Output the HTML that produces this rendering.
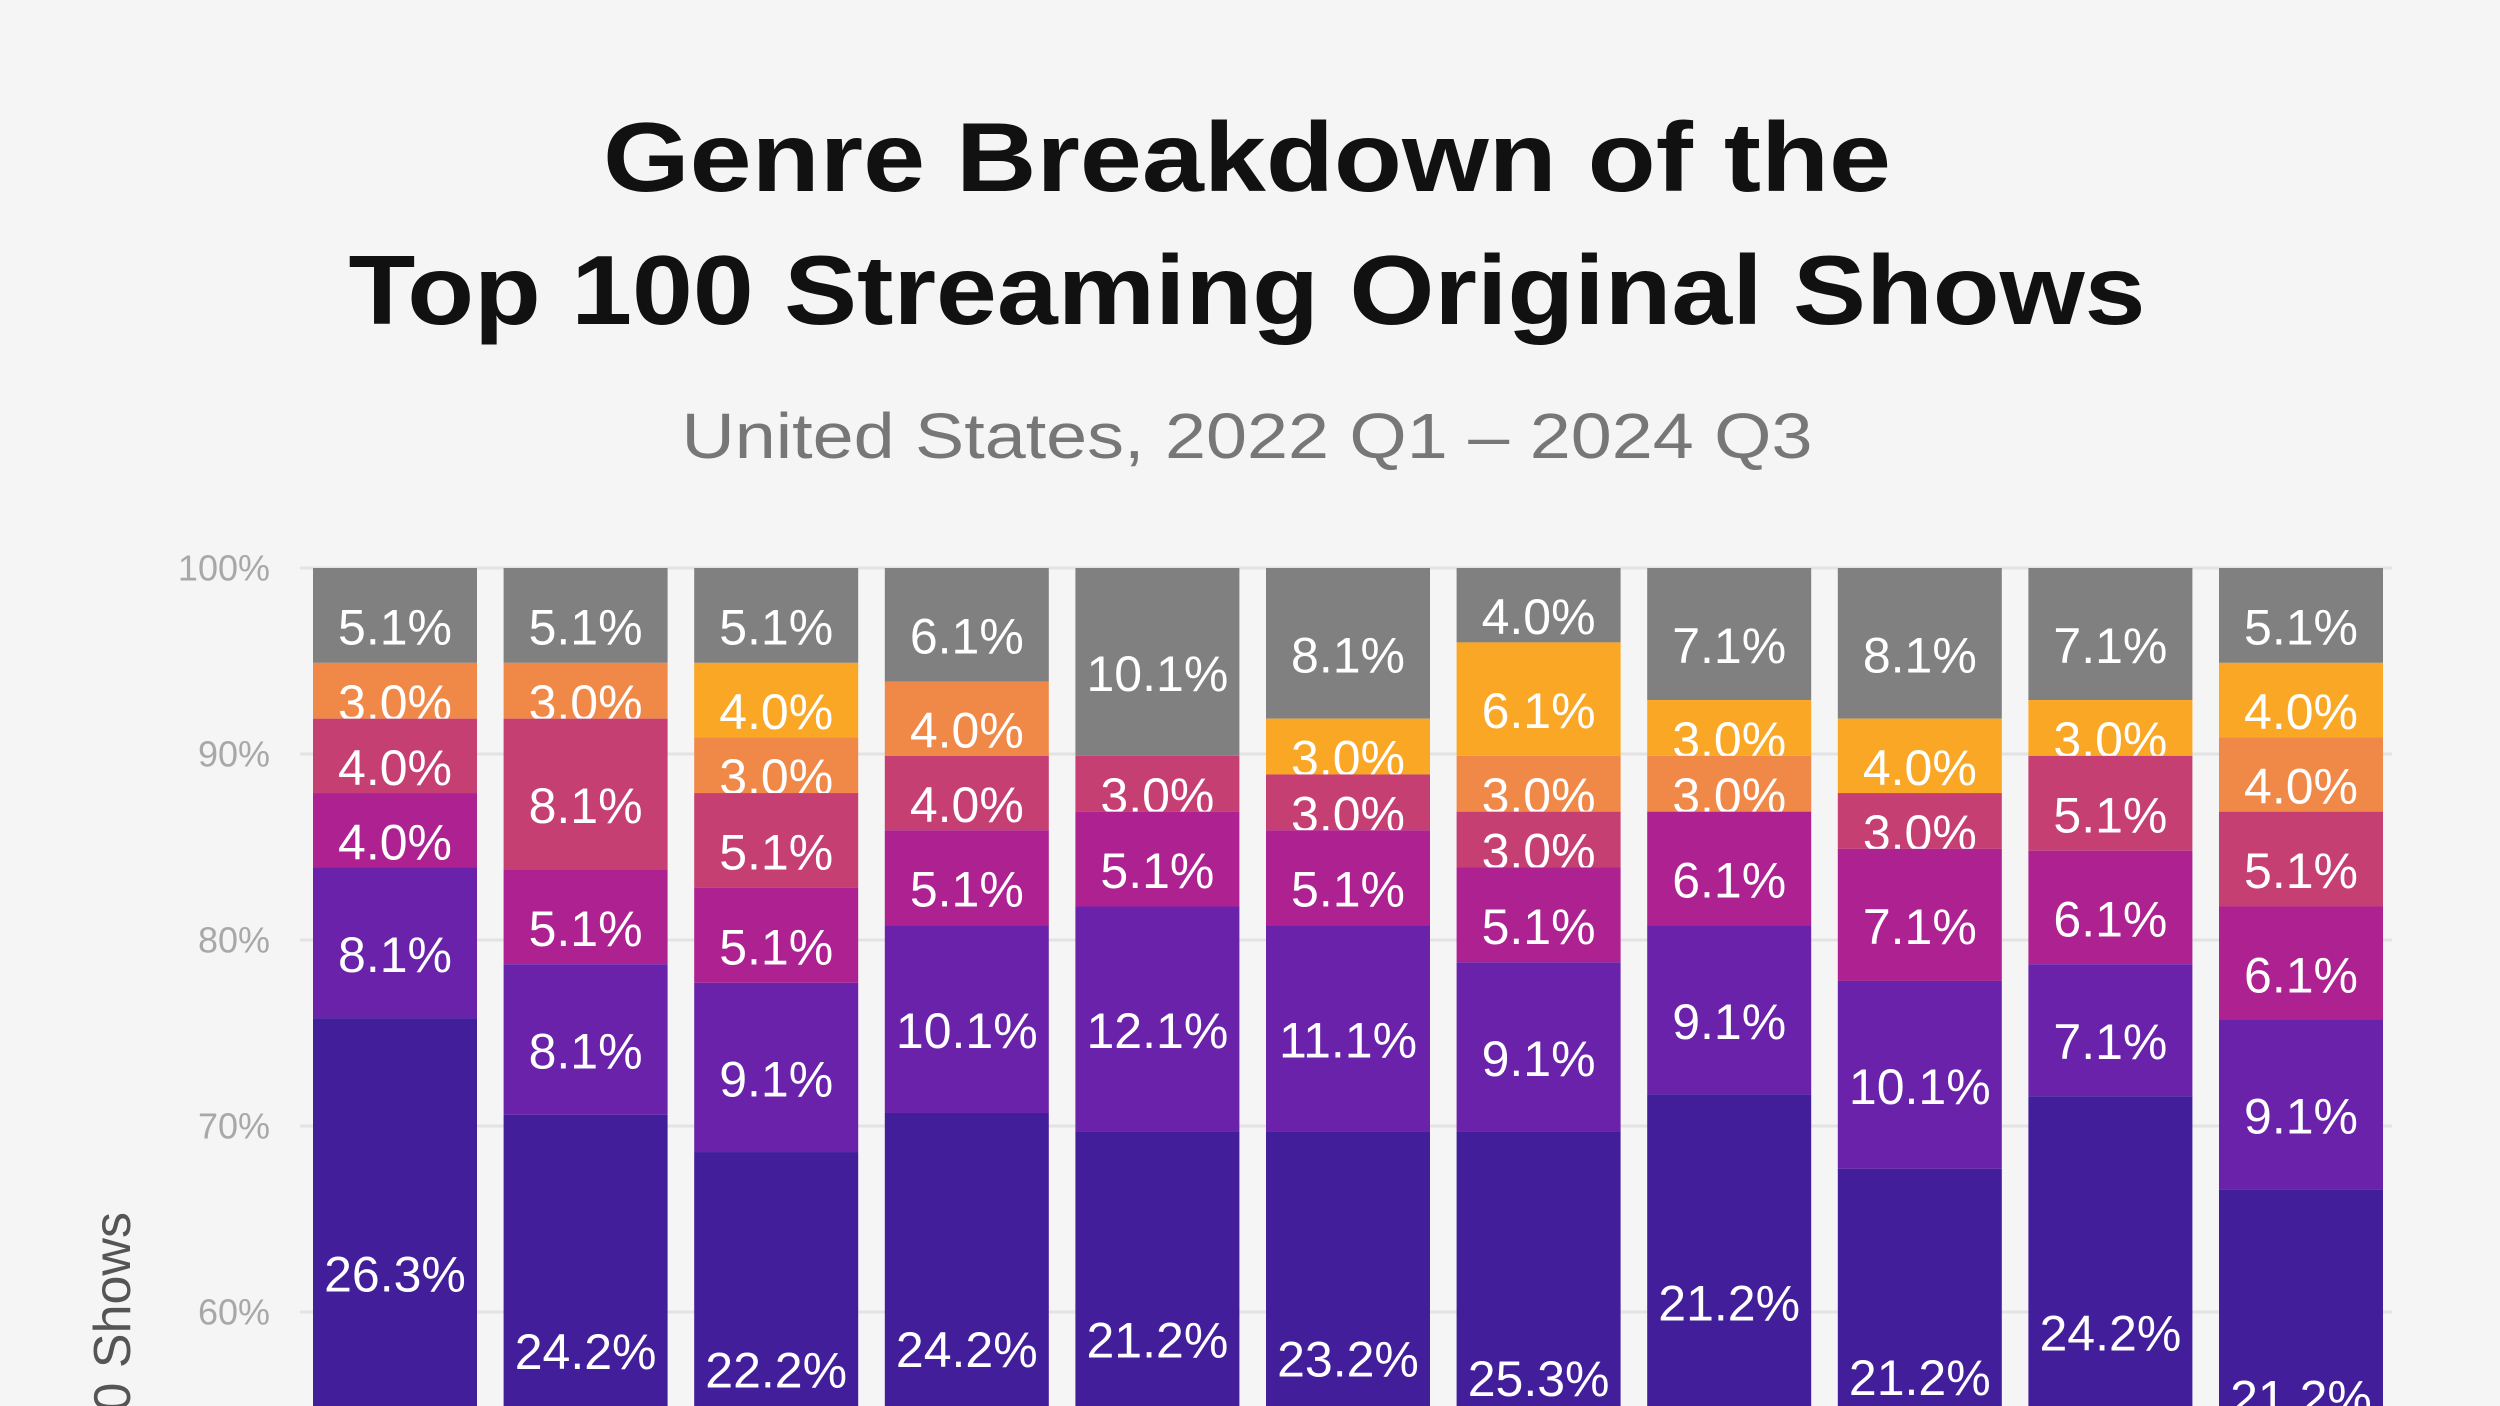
<!DOCTYPE html>
<html><head><meta charset="utf-8"><style>
html,body{margin:0;padding:0;background:#f5f5f5;overflow:hidden;width:2500px;height:1406px;}
svg{display:block;font-family:"Liberation Sans",sans-serif;overflow:hidden;}
</style></head><body>
<svg id="chart" width="2500" height="1406" viewBox="0 0 2500 1406" xmlns="http://www.w3.org/2000/svg">
<rect width="2500" height="1406" fill="#f5f5f5"/>
<text x="1247" y="191" text-anchor="middle" font-size="98" font-weight="bold" fill="#111" textLength="1288" lengthAdjust="spacingAndGlyphs">Genre Breakdown of the</text>
<text x="1247" y="324" text-anchor="middle" font-size="98" font-weight="bold" fill="#111" textLength="1797" lengthAdjust="spacingAndGlyphs">Top 100 Streaming Original Shows</text>
<text x="1247" y="458" text-anchor="middle" font-size="64" fill="#777" textLength="1131" lengthAdjust="spacingAndGlyphs">United States, 2022 Q1 – 2024 Q3</text>
<text x="0" y="0" transform="translate(130,1212) rotate(-90)" text-anchor="end" font-size="52" fill="#555">% of Top 100 Shows</text>
<g id="grid"></g>
<g id="bars"></g>
</svg>
<script>
const quarters = ["2022 Q1","2022 Q2","2022 Q3","2022 Q4","2023 Q1","2023 Q2","2023 Q3","2023 Q4","2024 Q1","2024 Q2","2024 Q3"];
const seriesNames = ["genre-indigo","genre-purple","genre-magenta","genre-rose","genre-orange","genre-yellow","genre-other"];
const indigoVals = [26.3,24.2,22.2,24.2,21.2,23.2,25.3,21.2,21.2,24.2,21.2];
const purpleVals = [8.1,8.1,9.1,10.1,12.1,11.1,9.1,9.1,10.1,7.1,9.1];
const magentaVals = [4.0,5.1,5.1,5.1,5.1,5.1,5.1,6.1,7.1,6.1,6.1];
const roseVals = [4.0,8.1,5.1,4.0,3.0,3.0,3.0,0,3.0,5.1,5.1];
const orangeVals = [3.0,3.0,3.0,4.0,0,0,3.0,3.0,0,0,4.0];
const yellowVals = [0,0,4.0,0,0,3.0,6.1,3.0,4.0,3.0,4.0];
const otherVals = [5.1,5.1,5.1,6.1,10.1,8.1,4.0,7.1,8.1,7.1,5.1];
const tickVals = [100,90,80,70,60];
const colors = ["#431e9b","#6a22aa","#ad2190","#c63f72","#f08848","#fba726","#808080"];
const NS="http://www.w3.org/2000/svg";
const y = v => 568 + (100 - v) * 18.6;
const x = i => 313 + i * 190.6;
const BW = 164;
const grid=document.getElementById('grid');
tickVals.forEach(t=>{
  const l=document.createElementNS(NS,'line');
  l.setAttribute('x1',300);l.setAttribute('x2',2392);
  l.setAttribute('y1',y(t));l.setAttribute('y2',y(t));
  l.setAttribute('stroke','#e3e3e3');l.setAttribute('stroke-width',3);
  
  
  grid.appendChild(l);
  const tx=document.createElementNS(NS,'text');
  tx.setAttribute('x',270);tx.setAttribute('y',y(t));
  tx.setAttribute('text-anchor','end');tx.setAttribute('dominant-baseline','central');
  tx.setAttribute('font-size',36);tx.setAttribute('fill','#a8a8a8');
  tx.textContent=t+'%';
  
  
  grid.appendChild(tx);
});
const series=[indigoVals,purpleVals,magentaVals,roseVals,orangeVals,yellowVals,otherVals];
const bars=document.getElementById('bars');
quarters.forEach((q,i)=>{
  let top=100;
  for(let k=series.length-1;k>=0;k--){
    const v=series[k][i]; if(!v) continue;
    const bot=top-v;
    const r=document.createElementNS(NS,'rect');
    r.setAttribute('x',x(i));r.setAttribute('width',BW);
    r.setAttribute('y',y(top));
    r.setAttribute('height',Math.min(k===0? 1406: y(bot),1406)-y(top));
    r.setAttribute('fill',colors[k]);
    
    
    bars.appendChild(r);
    const t=document.createElementNS(NS,'text');
    t.setAttribute('x',x(i)+BW/2);t.setAttribute('y',y((top+bot)/2)+12);
    t.setAttribute('text-anchor','middle');t.setAttribute('dominant-baseline','central');
    t.setAttribute('font-size',50);t.setAttribute('fill','#fff');
    t.textContent=v.toFixed(1)+'%';
    
    
    bars.appendChild(t);
    top=bot;
  }
});
</script>
</body></html>
